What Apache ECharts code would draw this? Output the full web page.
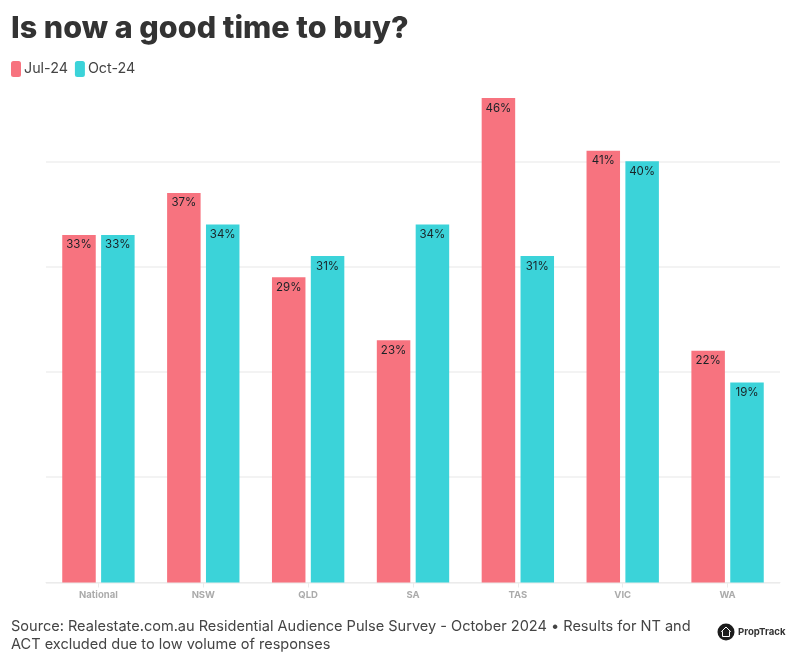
<!DOCTYPE html>
<html><head><meta charset="utf-8">
<style>html,body{margin:0;padding:0;background:#fff}#c{width:800px;height:662px}</style>
<script src="https://cdn.jsdelivr.net/npm/echarts@6/dist/echarts.min.js"></script>
</head><body><div id="c"></div>
<script>
const categories = ['National','NSW','QLD','SA','TAS','VIC','WA'];
const jul24 = [33,37,29,23,46,41,22];
const oct24 = [33,34,31,34,31,40,19];
const ticks = [0,10,20,30,40,50];
const FONT = 'Inter, "Open Sans", sans-serif';
const chart = echarts.init(document.getElementById('c'), null, {renderer:'canvas'});
const lab = {show:true, position:'insideTop', distance:4, color:'#1a2226', fontFamily:FONT, fontSize:11.5, formatter:p=>p.value+'%'};
chart.setOption({
  animation:false,
  backgroundColor:'#fff',
  title:[
    {text:'Is now a good time to buy?', left:6, top:8, textStyle:{fontFamily:FONT, fontWeight:800, fontSize:30.5, color:'#333'}},
    {text:'Source: Realestate.com.au Residential Audience Pulse Survey - October 2024 • Results for NT and\nACT excluded due to low volume of responses', left:6, top:613, textStyle:{fontFamily:FONT, fontWeight:400, fontSize:14.55, lineHeight:18, color:'#444'}}
  ],
  legend:{left:6, top:56, icon:'roundRect', itemWidth:10, itemHeight:16, itemGap:7,
    textStyle:{fontFamily:FONT, fontSize:14.3, color:'#444', padding:[0,0,0,-2]}, data:['Jul-24','Oct-24']},
  grid:{left:46, right:20, top:56, bottom:79.5},
  xAxis:{type:'category', data:categories, axisLine:{lineStyle:{color:'#ebebeb',width:1}},
    axisTick:{show:true, alignWithLabel:true, length:5, lineStyle:{color:'#ebebeb'}, interval:0},
    axisLabel:{color:'#ababab', fontFamily:FONT, fontWeight:700, fontSize:9.5, margin:8, interval:0}},
  yAxis:{type:'value', min:ticks[0], max:ticks[ticks.length-1], interval:10, axisLabel:{show:false}, axisLine:{show:false}, axisTick:{show:false},
    splitLine:{show:true, showMaxLine:false, lineStyle:{color:'#efefef',width:1.5}}},
  series:[
    {name:'Jul-24', type:'bar', data:jul24, barWidth:33.5, barGap:'16%', itemStyle:{color:'#f7737f'}, label:lab},
    {name:'Oct-24', type:'bar', data:oct24, barWidth:33.5, barGap:'16%', itemStyle:{color:'#3bd3d9'}, label:lab}
  ],
  graphic:[
    {type:'circle', shape:{cx:726,cy:632,r:8.5}, style:{fill:'#1c1c1c'}},
    {type:'polygon', shape:{points:[[721.5,631.5],[726,627],[730.5,631.5],[729.5,631.5],[729.5,636.5],[722.5,636.5],[722.5,631.5]]}, style:{fill:'#1c1c1c',stroke:'#fff',lineWidth:1}},
    {type:'text', left:738, top:627, style:{text:'PropTrack', fontFamily:FONT, fontWeight:700, fontSize:9.6, fill:'#333'}}
  ]
});
</script></body></html>
